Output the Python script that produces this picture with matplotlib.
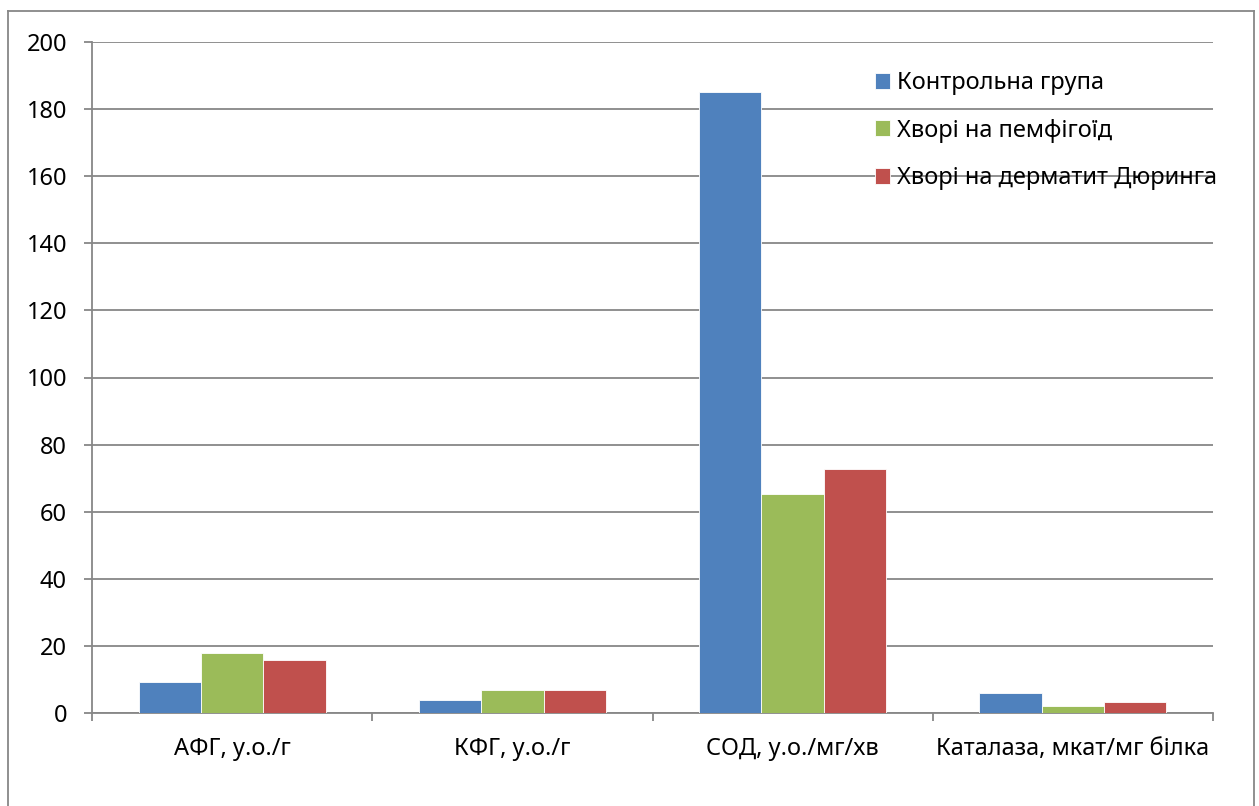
import matplotlib
matplotlib.use("Agg")
import matplotlib.pyplot as plt
import numpy as np
from matplotlib.lines import Line2D
from matplotlib.ticker import FixedLocator

categories = ["АФГ, у.о./г", "КФГ, у.о./г", "СОД, у.о./мг/хв", "Каталаза, мкат/мг білка"]
series_names = ["Контрольна група", "Хворі на пемфігоїд", "Хворі на дерматит Дюринга"]
control = [9.1, 4.0, 185.2, 5.9]
pemphigoid = [17.8, 6.8, 65.3, 2.0]
duhring = [15.8, 6.8, 72.7, 3.3]
colors = ["#4F81BD", "#9BBB59", "#C0504D"]
yticks = [0, 20, 40, 60, 80, 100, 120, 140, 160, 180, 200]

plt.rcParams['font.family'] = ['Noto Sans', 'DejaVu Sans']
W, H = 1259, 806
fig = plt.figure(figsize=(W / 100, H / 100), dpi=100)
ax = fig.add_axes([92 / W, 1 - 713 / H, (1213 - 92) / W, (713 - 42) / H])

x = np.arange(len(categories))
bw = 1 / 4.5
for i, (vals, name) in enumerate(zip([control, pemphigoid, duhring], series_names)):
    ax.bar(x + (i - 1) * bw, vals, width=bw, color=colors[i], label=name,
           edgecolor="white", linewidth=0.6, zorder=3)

ax.set_xlim(-0.5, len(categories) - 0.5)
ax.set_ylim(0, 200)
ax.set_yticks(yticks)
ax.set_yticklabels([str(v) for v in yticks], fontsize=17)
ax.yaxis.grid(True, color="#878787", linewidth=1.3, zorder=0)
ax.set_axisbelow(True)

ax.set_xticks(x)
ax.set_xticklabels(categories, fontsize=17)
ax.xaxis.set_minor_locator(FixedLocator(np.arange(-0.5, len(categories), 1.0)))
ax.tick_params(axis='x', which='major', length=0, pad=17)
ax.tick_params(axis='x', which='minor', length=6, width=1.3, color="#878787", direction='out')
ax.tick_params(axis='y', length=6, width=1.3, color="#878787", direction='out', pad=12)

for s in ["top", "right"]:
    ax.spines[s].set_visible(False)
for s in ["left", "bottom"]:
    ax.spines[s].set_color("#878787")
    ax.spines[s].set_linewidth(1.3)

leg = ax.legend(loc="upper left", bbox_to_anchor=((875 - 92) / (1213 - 92), (713 - 71) / (713 - 42)),
                frameon=False, fontsize=17, handlelength=0.65, handleheight=0.65,
                handletextpad=0.3, labelspacing=1.0, borderpad=0, borderaxespad=0)

# outer border
bc = "#878787"
fig.add_artist(Line2D([8 / W, 8 / W], [0, 1 - 11 / H], color=bc, linewidth=1.3))
fig.add_artist(Line2D([8 / W, 1254 / W], [1 - 11 / H, 1 - 11 / H], color=bc, linewidth=1.3))
fig.add_artist(Line2D([1254 / W, 1254 / W], [0, 1 - 11 / H], color=bc, linewidth=1.3))

fig.savefig("out.png", dpi=100)
